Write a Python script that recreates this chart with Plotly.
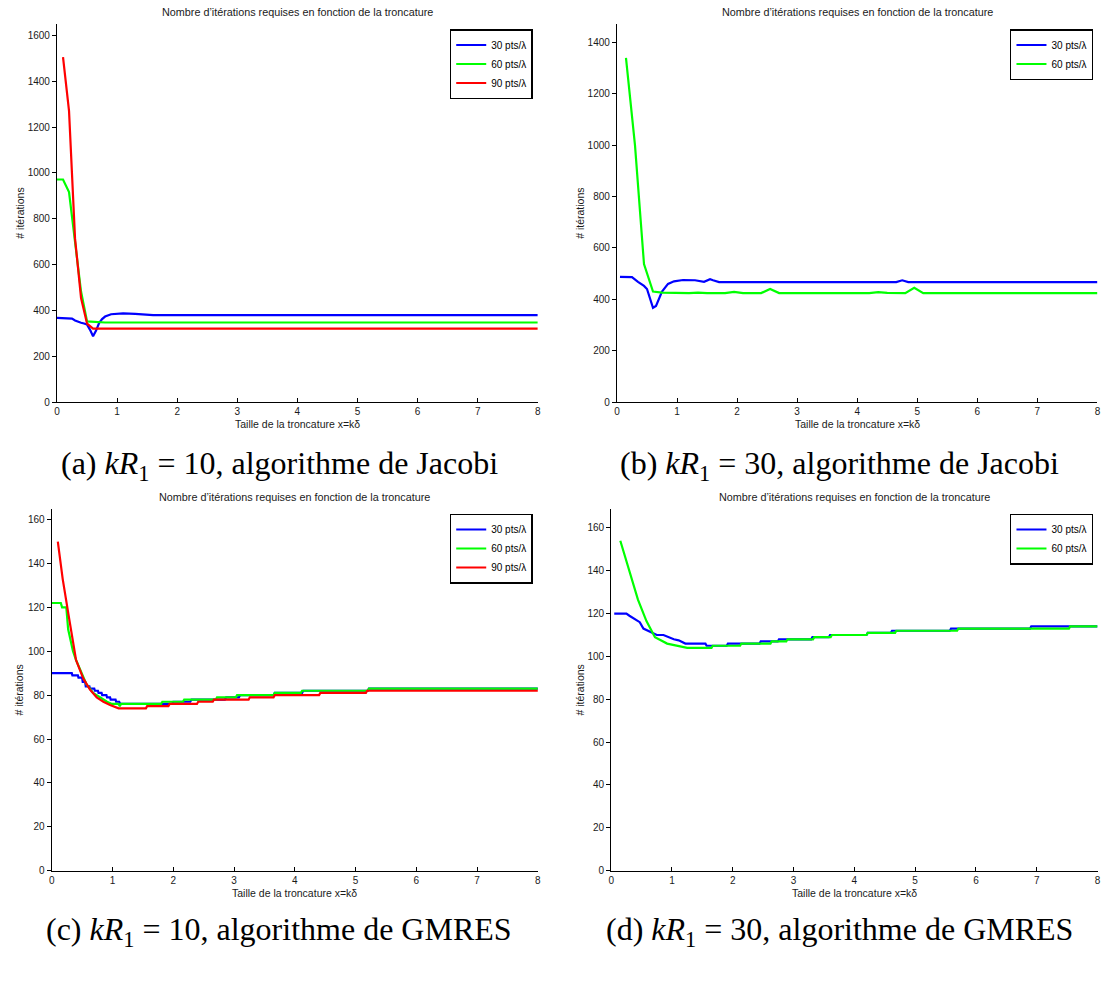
import plotly.graph_objects as go

# ---------------- data ----------------
# (a) kR1 = 10, Jacobi
a_x30 = [0.0, 0.1, 0.2, 0.25, 0.3, 0.35, 0.4, 0.45, 0.5, 0.55, 0.6, 0.65, 0.7, 0.75, 0.8, 0.9, 1.0, 1.1, 1.3, 1.5, 1.6, 8.0]
a_y30 = [367, 367, 367, 364, 356, 350, 346, 343, 338, 315, 287, 312, 345, 362, 373, 383, 386, 387, 385, 381, 379, 379]
a_x60 = [0.0, 0.1, 0.2, 0.3, 0.4, 0.5, 0.6, 0.7, 0.8, 1.0, 8.0]
a_y60 = [971, 971, 916, 705, 482, 352, 350, 348, 347, 347, 347]
a_x90 = [0.1, 0.2, 0.3, 0.4, 0.5, 0.6, 0.7, 8.0]
a_y90 = [1505, 1270, 714, 454, 342, 320, 320, 320]

# (b) kR1 = 30, Jacobi
b_x30 = [0.05, 0.25, 0.35, 0.45, 0.5, 0.55, 0.6, 0.65, 0.75, 0.85, 0.95, 1.1, 1.3, 1.45, 1.55, 1.6, 1.7, 4.65, 4.75, 4.85, 8.0]
b_y30 = [487, 486, 468, 452, 440, 400, 367, 374, 430, 460, 470, 475, 474, 468, 478, 474, 467, 467, 474, 467, 467]
b_x60 = [0.15, 0.3, 0.45, 0.6, 0.75, 0.9, 1.05, 1.2, 1.35, 1.5, 1.8, 1.95, 2.1, 2.4, 2.55, 2.7, 4.2, 4.35, 4.5, 4.8, 4.95, 5.1, 8.0]
b_y60 = [1340, 1000, 537, 430, 426, 425, 425, 424, 426, 424, 424, 429, 424, 424, 440, 424, 424, 428, 425, 424, 445, 424, 424]

# (c) kR1 = 10, GMRES
c_x30 = [0.0, 0.33, 0.34, 0.43, 0.44, 0.5, 0.51, 0.55, 0.56, 0.62, 0.63, 0.7, 0.71, 0.76, 0.77, 0.82, 0.83, 0.9, 0.91, 0.96,
         0.97, 1.05, 1.06, 1.11, 1.13, 1.98, 2.0, 2.28, 2.3, 2.85, 2.87, 3.08, 3.1, 3.65, 3.67, 4.12, 4.14, 5.2, 5.22, 8.0]
c_y30 = [90, 90, 89, 89, 88, 88, 86, 86, 84, 84, 83, 83, 82, 82, 81, 81, 80, 80, 79, 79,
         78, 78, 77, 77, 76, 76, 77, 77, 78, 78, 79, 79, 80, 80, 81, 81, 82, 82, 83, 83]
c_x60 = [0.0, 0.15, 0.17, 0.24, 0.27, 0.3, 0.35, 0.4, 0.46, 0.52, 0.57, 0.63, 0.68, 0.74, 0.79, 0.85, 0.91, 0.99, 1.1, 1.12,
         1.14, 1.8, 1.82, 2.16, 2.18, 2.7, 2.72, 3.03, 3.05, 3.65, 3.67, 4.1, 4.12, 5.2, 5.22, 8.0]
c_y60 = [122, 122, 120, 120, 110, 106, 100, 96, 92, 88, 85, 83, 81, 80, 79, 78, 77, 76, 76, 75,
         76, 76, 77, 77, 78, 78, 79, 79, 80, 80, 81, 81, 82, 82, 83, 83]
c_x90 = [0.1, 0.18, 0.28, 0.4, 0.52, 0.63, 0.74, 0.85, 0.96, 1.1, 1.55, 1.57, 1.92, 1.94, 2.39, 2.41, 2.65, 2.67,
         3.24, 3.26, 3.65, 3.67, 4.4, 4.42, 5.17, 5.19, 8.0]
c_y90 = [150, 133, 116, 96, 87.5, 82.5, 79, 77, 75.5, 74, 74, 75, 75, 76, 76, 77, 77, 78,
         78, 79, 79, 80, 80, 81, 81, 82, 82]

# (d) kR1 = 30, GMRES
d_x30 = [0.05, 0.25, 0.3, 0.39, 0.47, 0.53, 0.61, 0.67, 0.75, 0.86, 0.94, 1.03, 1.11, 1.22, 1.55, 1.57, 1.9, 1.92,
         2.44, 2.46, 2.74, 2.76, 3.29, 3.31, 3.58, 3.6, 4.2, 4.22, 4.6, 4.62, 5.57, 5.59, 6.89, 6.91, 8.0]
d_y30 = [120, 120, 119, 117.5, 116, 113, 112, 111, 110, 110, 109, 108, 107.5, 106, 106, 105, 105, 106,
         106, 107, 107, 108, 108, 109, 109, 110, 110, 111, 111, 112, 112, 113, 113, 114, 114]
d_x60 = [0.15, 0.31, 0.44, 0.58, 0.72, 0.92, 1.14, 1.25, 1.65, 1.67, 2.12, 2.14, 2.62, 2.64, 2.88, 2.9, 3.32, 3.34,
         3.61, 3.63, 4.2, 4.22, 4.67, 4.69, 5.69, 5.71, 7.53, 7.55, 8.0]
d_y60 = [154, 138.5, 126.5, 116.5, 109, 106, 104.5, 104, 104, 105, 105, 106, 106, 107, 107, 108, 108, 109,
         109, 110, 110, 111, 111, 112, 112, 113, 113, 114, 114]

series_names = ["30 pts/λ", "60 pts/λ", "90 pts/λ"]
plot_title = "Nombre d’itérations requises en fonction de la troncature"
x_label = "Taille de la troncature x=kδ"
y_label = "# itérations"
x_ticks = [0, 1, 2, 3, 4, 5, 6, 7, 8]
captions = ["(a) <i>kR</i><sub>1</sub> = 10, algorithme de Jacobi",
            "(b) <i>kR</i><sub>1</sub> = 30, algorithme de Jacobi",
            "(c) <i>kR</i><sub>1</sub> = 10, algorithme de GMRES",
            "(d) <i>kR</i><sub>1</sub> = 30, algorithme de GMRES"]

# ---------------- layout helpers ----------------
W, H = 1110, 993
COLORS = ["#0000FF", "#00FF00", "#FF0000"]
SANS = "Liberation Sans, Arial, sans-serif"


def px(x):
    return x / W


def py(y):
    return 1 - y / H


# panel geometry in pixels
panels = [
    dict(l=54.3, r=537.7, t=24, b=404.5, ymax=1650, dtick=200, leg=(532.7, 29.3),
         data=[(a_x30, a_y30), (a_x60, a_y60), (a_x90, a_y90)], ytx=16.8, cap=(278, 468)),
    dict(l=617.3, r=1100.4, t=24, b=404.5, ymax=1472, dtick=200, leg=(1096, 29.3),
         data=[(b_x30, b_y30), (b_x60, b_y60)], ytx=580, cap=(841, 468)),
    dict(l=49.0, r=537.8, t=511.7, b=876, ymax=165, dtick=20, leg=(532.7, 516.7),
         data=[(c_x30, c_y30), (c_x60, c_y60), (c_x90, c_y90)], ytx=16, cap=(278, 937)),
    dict(l=611.5, r=1100.5, t=511.7, b=876, ymax=169, dtick=20, leg=(1096, 516.7),
         data=[(d_x30, d_y30), (d_x60, d_y60)], ytx=580, cap=(841, 937)),
]

fig = go.Figure()
annotations = []
layout_axes = {}

for i, p in enumerate(panels):
    n = i + 1
    xa = "x" if n == 1 else f"x{n}"
    ya = "y" if n == 1 else f"y{n}"
    leg = "legend" if n == 1 else f"legend{n}"
    for j, (xs, ys) in enumerate(p["data"]):
        fig.add_trace(go.Scatter(
            x=xs, y=ys, mode="lines", name=series_names[j],
            line=dict(color=COLORS[j], width=2.2),
            xaxis=xa, yaxis=ya, legend=leg, showlegend=True,
        ))
    common = dict(showline=True, linecolor="black", linewidth=1.2, mirror=False,
                  showgrid=False, zeroline=False,
                  tickfont=dict(family=SANS, size=10, color="#1a1a1a"),
                  tickcolor="black", tickwidth=1, ticklabeloverflow="allow")
    layout_axes[f"xaxis{'' if n == 1 else n}"] = dict(
        domain=[px(p["l"]), px(p["r"])], anchor=ya, range=[0, 8.0005],
        tickmode="array", tickvals=x_ticks, ticktext=[str(v) for v in x_ticks],
        ticks="inside", ticklen=4, **common)
    layout_axes[f"yaxis{'' if n == 1 else n}"] = dict(
        domain=[py(p["b"]), py(p["t"])], anchor=xa, range=[0, p["ymax"]], dtick=p["dtick"], tick0=0,
        ticks="outside", ticklen=4, **common)
    layout_axes[leg] = dict(
        x=px(p["leg"][0]), y=py(p["leg"][1]), xanchor="right", yanchor="top",
        bgcolor="white", bordercolor="black", borderwidth=1.4,
        font=dict(family=SANS, size=10, color="black"),
        itemwidth=30, tracegroupgap=0)
    cx = (p["l"] + p["r"]) / 2
    title_y = 11.7 if n <= 2 else 500
    annotations.append(dict(text=plot_title, x=px(cx), y=py(title_y), xref="paper", yref="paper",
                            showarrow=False, xanchor="center", yanchor="middle",
                            font=dict(family=SANS, size=10.8, color="#1a1a1a")))
    annotations.append(dict(text=x_label, x=px(cx), y=py(p["b"] + 22.5), xref="paper", yref="paper",
                            showarrow=False, xanchor="center", yanchor="middle",
                            font=dict(family=SANS, size=10.5, color="#1a1a1a")))
    annotations.append(dict(text=y_label, x=px(p["ytx"]), y=py((p["t"] + p["b"]) / 2), xref="paper", yref="paper",
                            showarrow=False, xanchor="center", yanchor="middle", textangle=-90,
                            font=dict(family=SANS, size=10.5, color="#1a1a1a")))
    annotations.append(dict(text=captions[i], x=px(p["cap"][0]), y=py(p["cap"][1]), xref="paper", yref="paper",
                            showarrow=False, xanchor="center", yanchor="middle",
                            font=dict(family="Liberation Serif, Times New Roman, serif", size=32, color="black")))

fig.update_layout(
    width=W, height=H,
    margin=dict(l=0, r=0, t=0, b=0),
    paper_bgcolor="white", plot_bgcolor="white",
    annotations=annotations,
    **layout_axes,
)

fig.write_html("out.html",
               config={"displayModeBar": False},
               post_script="document.body.style.margin='0px';document.body.style.overflow='hidden';")
